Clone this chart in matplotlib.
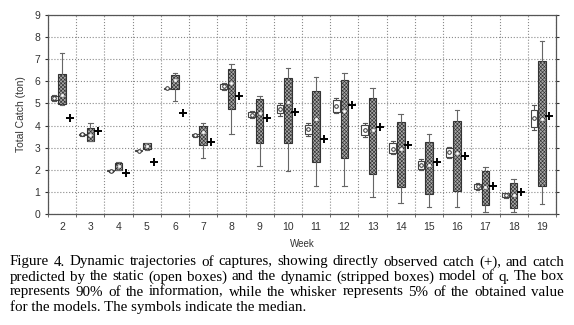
import matplotlib
matplotlib.use("Agg")
import matplotlib.pyplot as plt
import numpy as np

# weeks on the x axis
weeks = np.arange(2, 20)

# static model (open boxes): whisker low, q1, median, q3, whisker high
static_lo = [5.12, 3.55, 1.92, 2.83, 5.66, 3.50, 5.62, 4.33, 4.45, 3.55, 4.55, 3.50, 2.70, 1.98, 2.55, 1.10, 0.74, 3.80]
static_q1 = [5.16, 3.57, 1.93, 2.84, 5.67, 3.52, 5.65, 4.37, 4.55, 3.62, 4.63, 3.57, 2.75, 2.02, 2.59, 1.13, 0.76, 3.95]
static_med = [5.25, 3.60, 1.95, 2.86, 5.69, 3.56, 5.77, 4.50, 4.75, 3.85, 4.90, 3.80, 2.95, 2.20, 2.80, 1.25, 0.85, 4.34]
static_q3 = [5.35, 3.64, 1.97, 2.88, 5.71, 3.60, 5.88, 4.63, 4.93, 4.03, 5.16, 4.03, 3.20, 2.40, 2.97, 1.36, 0.94, 4.70]
static_hi = [5.38, 3.66, 1.98, 2.89, 5.72, 3.62, 5.92, 4.67, 5.03, 4.12, 5.25, 4.12, 3.30, 2.48, 3.05, 1.40, 0.96, 4.93]

# dynamic model (stripped boxes)
dyn_lo = [4.93, 3.30, 1.98, 2.88, 5.12, 2.55, 3.60, 2.17, 1.94, 1.28, 1.27, 0.78, 0.48, 0.30, 0.33, 0.10, 0.10, 0.44]
dyn_q1 = [4.97, 3.32, 1.99, 2.93, 5.64, 3.12, 4.73, 3.22, 3.22, 2.37, 2.52, 1.81, 1.24, 0.89, 1.05, 0.41, 0.29, 1.28]
dyn_med = [5.40, 3.57, 2.15, 3.07, 6.06, 3.72, 5.94, 4.55, 5.05, 4.28, 4.65, 3.82, 2.93, 2.20, 2.75, 1.20, 0.85, 4.30]
dyn_q3 = [6.33, 3.87, 2.32, 3.20, 6.28, 3.98, 6.54, 5.20, 6.14, 5.56, 6.06, 5.26, 4.15, 3.27, 4.22, 1.94, 1.42, 6.93]
dyn_hi = [7.27, 4.10, 2.35, 3.22, 6.40, 4.13, 6.77, 5.35, 6.59, 6.18, 6.36, 5.71, 4.51, 3.60, 4.70, 2.14, 1.57, 7.82]

# directly observed catch (+)
observed = [4.34, 3.77, 1.84, 2.37, 4.58, 3.27, 5.35, 4.36, 4.63, 3.39, 4.93, 3.92, 3.13, 2.37, 2.64, 1.28, 1.01, 4.43]

caption_lines = [
    "Figure 4. Dynamic trajectories of captures, showing directly observed catch (+), and catch",
    "predicted by the static (open boxes) and the dynamic (stripped boxes) model of q. The box",
    "represents 90% of the information, while the whisker represents 5% of the obtained value",
    "for the models. The symbols indicate the median.",
]


def make_stats(lo, q1, med, q3, hi):
    return [
        {"whislo": a, "q1": b, "med": c, "q3": d, "whishi": e}
        for a, b, c, d, e in zip(lo, q1, med, q3, hi)
    ]


plt.rcParams["hatch.linewidth"] = 0.45
plt.rcParams["font.family"] = "Liberation Sans"

fig = plt.figure(figsize=(5.74, 3.25), dpi=100)
ax = fig.add_axes([0.0836, 0.3415, 0.8850, 0.6123])

pos_static = weeks - 0.28
pos_dyn = weeks + 0.0
pos_obs = weeks + 0.27

ax.bxp(
    make_stats(static_lo, static_q1, static_med, static_q3, static_hi),
    positions=pos_static,
    widths=0.24,
    patch_artist=True,
    showfliers=False,
    boxprops=dict(facecolor="white", edgecolor="#444444", linewidth=0.8),
    whiskerprops=dict(color="#555555", linewidth=0.8),
    capprops=dict(color="#555555", linewidth=0.8),
    medianprops=dict(visible=False),
    capwidths=0.14,
    zorder=3,
)
ax.bxp(
    make_stats(dyn_lo, dyn_q1, dyn_med, dyn_q3, dyn_hi),
    positions=pos_dyn,
    widths=0.27,
    patch_artist=True,
    showfliers=False,
    boxprops=dict(facecolor="#a8a8a8", edgecolor="#333333", linewidth=0.8, hatch="xxxxxxxxx"),
    whiskerprops=dict(color="#666666", linewidth=0.8),
    capprops=dict(color="#666666", linewidth=0.8),
    medianprops=dict(visible=False),
    capwidths=0.16,
    zorder=3,
)
ax.plot(pos_static, static_med, "o", ms=2.6, mfc="white", mec="#333333", mew=0.7, zorder=4)
ax.plot(pos_dyn, dyn_med, "o", ms=2.0, mfc="white", mec="#dddddd", mew=0.4, zorder=4)
ax.plot(pos_obs, observed, "+", ms=5.5, color="black", mew=1.4, zorder=4)

ax.set_xlim(1.5, 19.5)
ax.set_ylim(0, 9)
ax.set_xticks(weeks)
ax.set_xticklabels([str(w) for w in weeks])
ax.set_xticks(np.arange(1.5, 20.0, 1.0), minor=True)
ax.set_yticks(np.arange(0, 10))
ax.tick_params(axis="x", which="major", length=0, labelsize=7.5, pad=6, colors="#333333")
ax.tick_params(axis="x", which="minor", length=2.5, direction="out", color="#555555")
ax.tick_params(axis="y", which="major", length=2.5, direction="out", labelsize=7.5, pad=3,
               colors="#333333", right=True)
ax.grid(axis="x", which="minor", linestyle=":", color="#8a8a8a", linewidth=0.8)
ax.grid(axis="y", which="major", linestyle=":", color="#8a8a8a", linewidth=0.8)
ax.set_axisbelow(True)
for s in ax.spines.values():
    s.set_color("#555555")
    s.set_linewidth(0.9)

ax.set_xlabel("Week", fontsize=7, color="#333333", labelpad=5)
ax.set_ylabel("Total Catch (ton)", fontsize=7.5, color="#333333", labelpad=6)

# caption, justified word by word
renderer = fig.canvas.get_renderer()
x_left, x_right = 10 / 574, 564 / 574
line_y = [262, 277, 292, 307]
fsize = 10.8
for i, line in enumerate(caption_lines):
    yfrac = 1 - line_y[i] / 325
    words = line.split(" ")
    if i == len(caption_lines) - 1:
        fig.text(x_left, yfrac, line, family="Liberation Serif", fontsize=fsize,
                 ha="left", va="center")
        continue
    widths = []
    for w in words:
        t = fig.text(0, 0, w, family="Liberation Serif", fontsize=fsize)
        widths.append(t.get_window_extent(renderer).width / fig.bbox.width)
        t.remove()
    gap = (x_right - x_left - sum(widths)) / (len(words) - 1)
    x = x_left
    for w, wd in zip(words, widths):
        fig.text(x, yfrac, w, family="Liberation Serif", fontsize=fsize,
                 ha="left", va="center")
        x += wd + gap

fig.savefig("out.png", dpi=100)
